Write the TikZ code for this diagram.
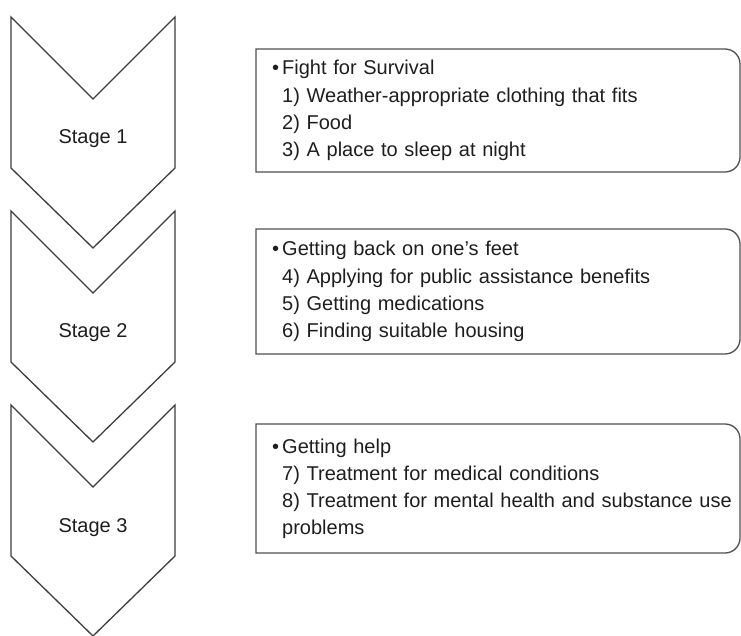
\documentclass[tikz,border=0pt]{standalone}
\usepackage{fontspec}
\setmainfont{Liberation Sans}
\usetikzlibrary{positioning}
\definecolor{linegray}{RGB}{60,60,60}
\definecolor{boxgray}{RGB}{80,80,80}
\definecolor{textgray}{RGB}{30,30,30}

\begin{document}
\begin{tikzpicture}[x=1pt, y=1pt,
  chevron/.style={draw=linegray, line width=1.3pt, line join=miter},
  outline/.style={draw=boxgray, line width=1.3pt},
  stagelabel/.style={font=\fontsize{20pt}{24pt}\selectfont, text=textgray, inner sep=0pt},
  listtext/.style={font=\fontsize{20pt}{27.3pt}\selectfont, text=textgray, inner sep=0pt, text width=455pt, align=left}]
  \useasboundingbox (0,0) rectangle (741,635);
  % stage arrows
  \foreach \n/\t in {1/618, 2/424, 3/230} {
    \draw[chevron] (11,\t) -- (93,\t-82) -- (175,\t) -- (175,\t-151) -- (93,\t-231) -- (11,\t-151) -- cycle;
    \node[stagelabel, anchor=base] (stage\n) at (93,\t-127) {Stage \n};
  }
  % boxes, rounded on the right
  \foreach \t/\b in {586/463, 406/281, 211/82}
    \draw[outline] (256,\b) -- (256,\t) -- (725,\t) arc[start angle=90, end angle=0, radius=15pt]
      -- (740,\b+15) arc[start angle=0, end angle=-90, radius=15pt] -- cycle;
  % box texts
  \node[listtext, anchor=base west] (needs1) at (282,560) {\llap{\textbullet\hspace{3pt}}Fight for Survival\\
    1) Weather-appropriate clothing that fits\\
    2) Food\\
    3) A place to sleep at night};
  \node[listtext, anchor=base west] (needs2) at (282,379) {\llap{\textbullet\hspace{3pt}}Getting back on one’s feet\\
    4) Applying for public assistance benefits\\
    5) Getting medications\\
    6) Finding suitable housing};
  \node[listtext, anchor=base west] (needs3) at (282,182) {\llap{\textbullet\hspace{3pt}}Getting help\\
    7) Treatment for medical conditions\\
    8) Treatment for mental health and substance use\\
    problems};
\end{tikzpicture}
\end{document}
